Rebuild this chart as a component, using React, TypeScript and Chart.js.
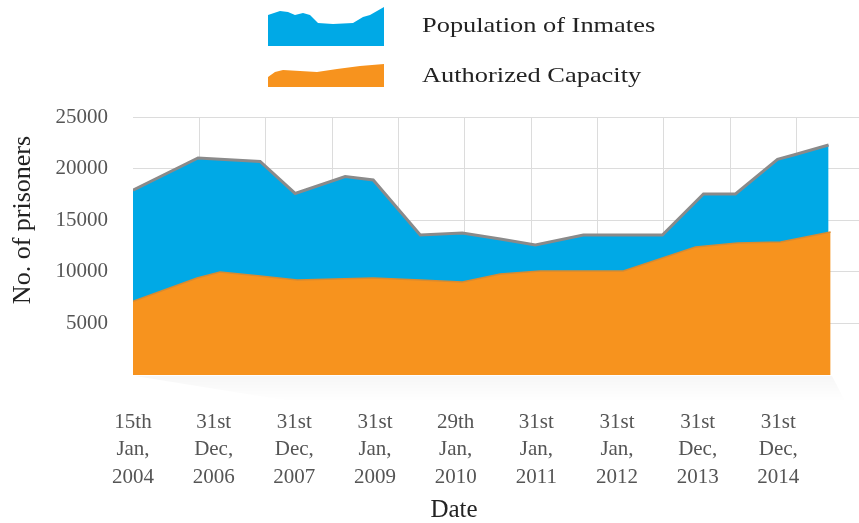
import React, { useEffect, useRef } from 'react';
import { Chart, registerables } from 'chart.js';

Chart.register(...registerables);

// Tick labels (date categories), each split into lines
const tickLabels: string[][] = [
  ['15th', 'Jan,', '2004'],
  ['31st', 'Dec,', '2006'],
  ['31st', 'Dec,', '2007'],
  ['31st', 'Jan,', '2009'],
  ['29th', 'Jan,', '2010'],
  ['31st', 'Jan,', '2011'],
  ['31st', 'Jan,', '2012'],
  ['31st', 'Dec,', '2013'],
  ['31st', 'Dec,', '2014'],
];

// Population of inmates: positions along the date axis (in tick units) and values
const inmatesX = [0, 0.806, 1.576, 2.01, 2.63, 2.978, 3.561, 4.082, 4.553, 4.988, 5.583, 6.563, 7.072, 7.469, 7.99, 8.189, 8.623];
const inmatesValues = [17900, 21030, 20690, 17590, 19230, 18900, 13570, 13760, 13180, 12600, 13570, 13570, 17540, 17540, 20900, 21320, 22290];

// Authorized capacity
const capacityX = [0, 0.794, 1.079, 1.576, 2.035, 2.978, 3.561, 4.082, 4.553, 5.05, 6.079, 6.973, 7.494, 8.027, 8.648];
const capacityValues = [7150, 9400, 9980, 9590, 9200, 9400, 9200, 9010, 9790, 10080, 10080, 12400, 12790, 12890, 13860];

const yMax = 25000;
const yStep = 5000;
const xMax = 9;
const gridStep = 0.8226;

const BLUE = '#00A9E6';
const ORANGE = '#F7931E';
const SERIF = '"Liberation Serif", "Times New Roman", serif';

export default function App() {
  const ref = useRef<HTMLCanvasElement | null>(null);

  useEffect(() => {
    if (!ref.current) return;

    const extras = {
      id: 'extras',
      beforeDatasetsDraw(chart: any) {
        const { ctx, chartArea } = chart;
        const b = chartArea.bottom;
        ctx.save();
        const g = ctx.createLinearGradient(0, b, 0, b + 26);
        g.addColorStop(0, 'rgba(0,0,0,0.035)');
        g.addColorStop(1, 'rgba(0,0,0,0.0)');
        ctx.fillStyle = g;
        ctx.beginPath();
        ctx.moveTo(135, b + 1);
        ctx.lineTo(832, b + 1);
        ctx.lineTo(845, b + 26);
        ctx.lineTo(290, b + 26);
        ctx.closePath();
        ctx.fill();
        ctx.restore();
      },
      afterDraw(chart: any) {
        const { ctx } = chart;
        ctx.save();
        ctx.fillStyle = '#222';
        ctx.font = `25px ${SERIF}`;
        ctx.textAlign = 'center';
        ctx.textBaseline = 'middle';
        ctx.fillText('Date', 454, 510);
        ctx.translate(23, 220);
        ctx.rotate(-Math.PI / 2);
        ctx.font = `26px ${SERIF}`;
        ctx.fillText('No. of prisoners', 0, 0);
        ctx.restore();
      },
    };

    const chart = new Chart(ref.current, {
      type: 'line',
      data: {
        datasets: [
          {
            label: 'Authorized Capacity',
            data: capacityX.map((x, i) => ({ x, y: capacityValues[i] })),
            fill: 'origin',
            backgroundColor: ORANGE,
            borderColor: '#D98A30',
            borderWidth: 1.5,
            pointRadius: 0,
            tension: 0,
            order: 0,
          },
          {
            label: 'Population of Inmates',
            data: inmatesX.map((x, i) => ({ x, y: inmatesValues[i] })),
            fill: 'origin',
            backgroundColor: BLUE,
            borderColor: '#8A8A8A',
            borderWidth: 3,
            pointRadius: 0,
            tension: 0,
            order: 1,
          },
        ],
      },
      options: {
        animation: false,
        responsive: false,
        layout: { padding: { top: 117, left: 0, right: 0, bottom: 0 } },
        plugins: { legend: { display: false }, tooltip: { enabled: false } },
        scales: {
          x: {
            type: 'linear',
            position: 'bottom',
            min: 0,
            max: xMax,
            afterBuildTicks: (s: any) => {
              s.ticks = tickLabels.map((_, i) => ({ value: i }));
            },
            afterFit: (s: any) => {
              s.height = 148;
            },
            ticks: {
              autoSkip: false,
              maxRotation: 0,
              minRotation: 0,
              padding: 34,
              color: '#555',
              font: { family: SERIF, size: 21, lineHeight: 1.3 },
              callback: (v: any) => tickLabels[Math.round(Number(v))] ?? '',
            },
            grid: { display: false, drawTicks: false },
            border: { display: false },
          },
          x2: {
            type: 'linear',
            axis: 'x',
            position: 'top',
            min: 0,
            max: xMax,
            afterBuildTicks: (s: any) => {
              const t: any[] = [];
              for (let k = 1; k * gridStep <= xMax; k++) t.push({ value: k * gridStep });
              s.ticks = t;
            },
            afterFit: (s: any) => {
              s.height = 0;
            },
            ticks: { display: false },
            grid: { color: '#DCDCDC', drawTicks: false, lineWidth: 1 },
            border: { display: false },
          },
          y: {
            type: 'linear',
            min: 0,
            max: yMax,
            afterFit: (s: any) => {
              s.width = 133;
            },
            ticks: {
              stepSize: yStep,
              padding: 25,
              color: '#555',
              font: { family: SERIF, size: 21 },
              callback: (v: any) => (Number(v) === 0 ? '' : String(v)),
            },
            grid: {
              drawTicks: false,
              color: (c: any) => (c.tick && c.tick.value === 0 ? 'rgba(0,0,0,0)' : '#DCDCDC'),
            },
            border: { display: false },
          },
        },
      },
      plugins: [extras],
    } as any);

    return () => chart.destroy();
  }, []);

  const legendText: React.CSSProperties = {
    position: 'absolute',
    left: 422,
    fontFamily: SERIF,
    fontSize: 22,
    color: '#222',
    whiteSpace: 'nowrap',
    transform: 'scaleX(1.2)',
    transformOrigin: 'left center',
    lineHeight: '26px',
  };

  return (
    <div style={{ position: 'absolute', left: 0, top: 0, width: 859, height: 523, background: '#fff' }}>
      <canvas ref={ref} width={859} height={523} style={{ position: 'absolute', left: 0, top: 0 }} />
      <svg width={859} height={100} style={{ position: 'absolute', left: 0, top: 0 }}>
        <polygon
          fill={BLUE}
          points="268,15 280,11 288,12 295,15 303,13 310,15 318,23 333,24 353,23 363,17 370,15 384,7 384,46 268,46"
        />
        <polygon
          fill={ORANGE}
          points="268,77 275,72 283,70 317,72 337,69 360,66 384,64 384,87 268,87"
        />
      </svg>
      <div style={{ ...legendText, top: 12 }}>Population of Inmates</div>
      <div style={{ ...legendText, top: 62 }}>Authorized Capacity</div>
    </div>
  );
}
